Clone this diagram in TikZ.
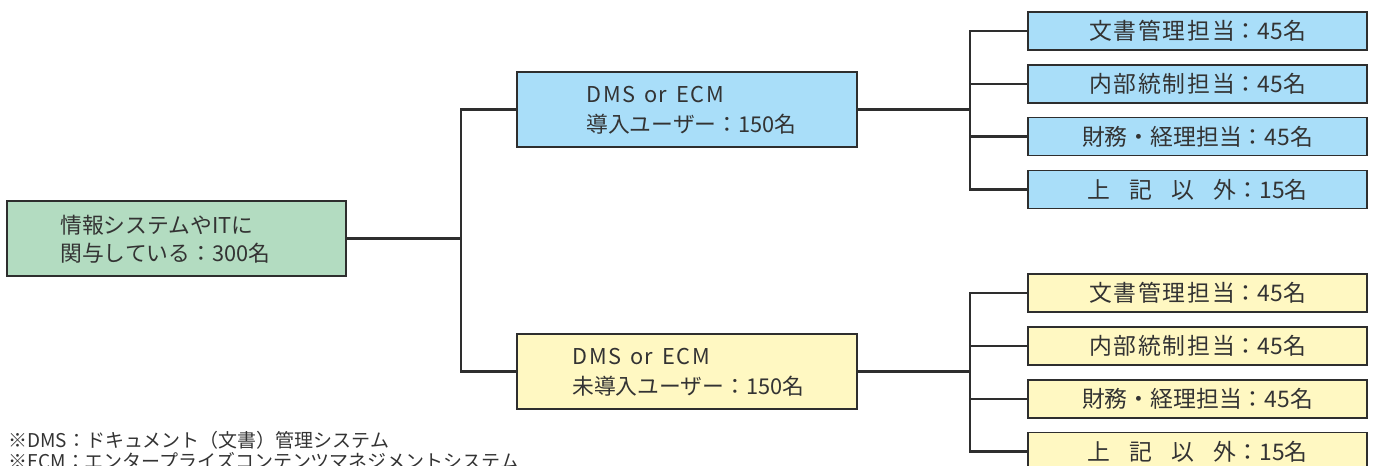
\documentclass[tikz,border=0pt]{standalone}
\usepackage{fontspec}
\setmainfont{Noto Sans CJK JP}
\definecolor{greenc}{HTML}{B3DCC1}
\definecolor{bluec}{HTML}{A9DEF9}
\definecolor{yellowc}{HTML}{FFF8C2}
\definecolor{linec}{HTML}{2E2E2E}
\definecolor{textc}{HTML}{333333}
\newcommand\dmsecm{D\kern1pt M\kern1pt S\hspace{5pt}o\kern0.8pt r\hspace{5pt}E\kern1pt C\kern1pt M}
\begin{document}
\begin{tikzpicture}[x=0.02cm,y=-0.02cm,
  box/.style={draw=linec, line width=0.85pt, inner sep=0pt},
  midbox/.style={box, minimum width=6.8cm, minimum height=1.5cm},
  leaf/.style={box, minimum width=6.78cm, minimum height=0.76cm, text=textc, font=\fontsize{13}{15}\selectfont},
  label/.style={anchor=west, align=left, inner sep=0pt, text=textc, font=\fontsize{12.4}{17}\selectfont},
  note/.style={anchor=west, inner sep=0pt, text=textc, font=\fontsize{10.8}{13}\selectfont},
  link/.style={draw=linec, line width=1.3pt}]
\useasboundingbox (0,0) rectangle (1373,466);
\clip (0,0) rectangle (1373,466);

% root
\node[box, fill=greenc, minimum width=6.78cm, minimum height=1.5cm] (root) at (176.5,238.5) {};
\node[label, font=\fontsize{12.4}{16}\selectfont] (roottxt) at (60,239) {情報システムやITに\\関与している：300名};

% middle boxes
\node[midbox, fill=bluec] (mb) at (687,109.5) {};
\node[label] (mbtxt) at (586,110) {\dmsecm\\導入ユーザー：150名};
\node[midbox, fill=yellowc] (my) at (687,371.5) {};
\node[label] (mytxt) at (572,372) {\dmsecm\\未導入ユーザー：150名};

% leaves blue
\node[leaf, fill=bluec] (b1) at (1197.5,31) {文\kern1pt 書\kern1pt 管\kern1pt 理\kern1pt 担\kern1pt 当：45名};
\node[leaf, fill=bluec] (b2) at (1197.5,84) {内\kern1pt 部\kern1pt 統\kern1pt 制\kern1pt 担\kern1pt 当：45名};
\node[leaf, fill=bluec] (b3) at (1197.5,136.5) {財務・経理担当：45名};
\node[leaf, fill=bluec] (b4) at (1197.5,189.5) {上\hspace{11pt}記\hspace{11pt}以\hspace{11pt}外：15名};

% leaves yellow
\node[leaf, fill=yellowc] (y1) at (1197.5,293) {文\kern1pt 書\kern1pt 管\kern1pt 理\kern1pt 担\kern1pt 当：45名};
\node[leaf, fill=yellowc] (y2) at (1197.5,346) {内\kern1pt 部\kern1pt 統\kern1pt 制\kern1pt 担\kern1pt 当：45名};
\node[leaf, fill=yellowc] (y3) at (1197.5,399) {財務・経理担当：45名};
\node[leaf, fill=yellowc] (y4) at (1197.5,451.5) {上\hspace{11pt}記\hspace{11pt}以\hspace{11pt}外：15名};

% junctions
\coordinate (j0) at (461,238.5);
\coordinate (jb) at (970,109.5);
\coordinate (jy) at (970,371.5);

\draw[link] (root.east) -- (j0);
\draw[link] (j0) |- (mb.west);
\draw[link] (j0) |- (my.west);
\draw[link] (mb.east) -- (jb);
\draw[link] (jb) |- (b1.west);
\draw[link] (jb) |- (b2.west);
\draw[link] (jb) |- (b3.west);
\draw[link] (jb) |- (b4.west);
\draw[link] (my.east) -- (jy);
\draw[link] (jy) |- (y1.west);
\draw[link] (jy) |- (y2.west);
\draw[link] (jy) |- (y3.west);
\draw[link] (jy) |- (y4.west);

% notes
\node[note] (n1) at (8,440) {※DMS：ドキュメント（文書）管理システム};
\node[note] (n2) at (8,461) {※ECM：エンタープライズコンテンツマネジメントシステム};
\end{tikzpicture}
\end{document}
